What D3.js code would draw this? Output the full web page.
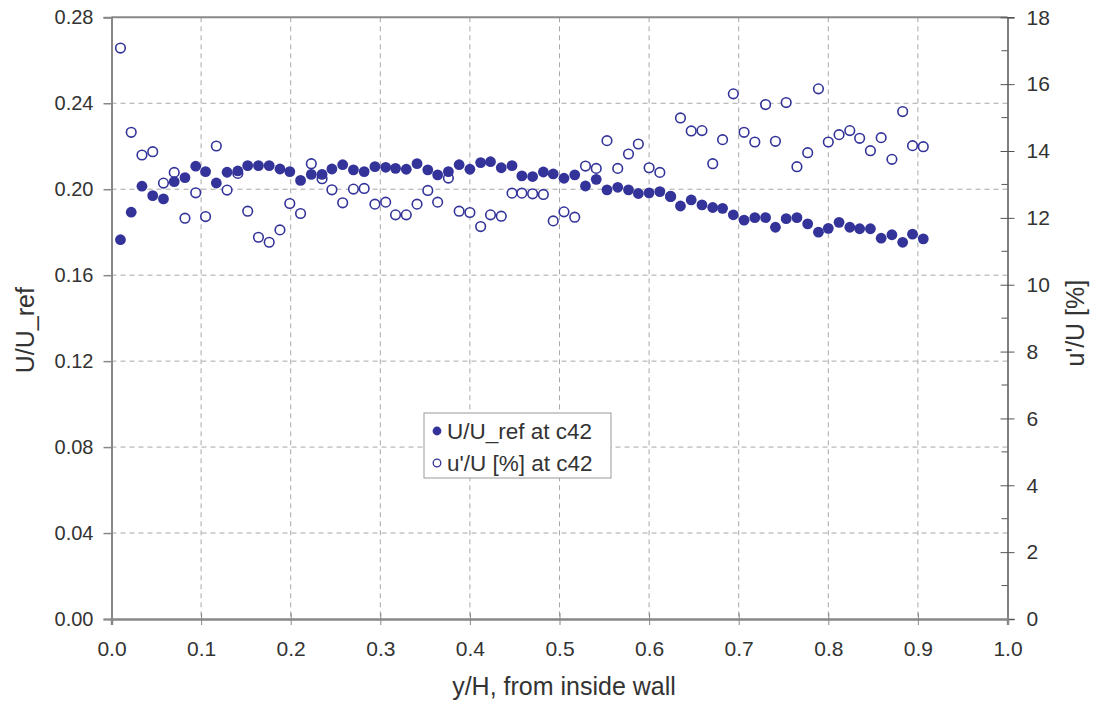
<!DOCTYPE html>
<html>
<head>
<meta charset="utf-8">
<script src="https://cdn.jsdelivr.net/npm/d3@7"></script>
<style>
  body { margin: 0; background: #fff; }
  svg { display: block; font-family: "Liberation Sans", Arial, sans-serif; }
</style>
</head>
<body>
<svg id="chart" width="1099" height="704"></svg>
<script>
// ---- data ----
const xPos = [0.010,0.022,0.034,0.046,0.058,0.070,0.082,0.094,0.105,0.117,0.129,0.141,0.152,0.164,0.176,0.188,0.199,0.211,0.223,0.235,
  0.246,0.258,0.270,0.282,0.294,0.306,0.317,0.329,0.341,0.353,0.364,0.376,0.388,0.400,0.412,0.423,0.435,0.447,0.458,0.470,0.482,
  0.493,0.505,0.517,0.529,0.541,0.553,0.565,0.577,0.588,0.600,0.612,0.624,0.635,0.647,0.659,0.671,0.682,0.694,0.706,0.718,0.730,
  0.741,0.753,0.765,0.777,0.789,0.800,0.812,0.824,0.835,0.847,0.859,0.871,0.883,0.894,0.906];
const uRef = [0.1765,0.1893,0.2014,0.1970,0.1955,0.2035,0.2054,0.2107,0.2082,0.2029,0.2079,0.2085,0.2110,0.2110,0.2110,0.2094,0.2082,0.2041,0.2069,0.2069,
  0.2094,0.2114,0.2090,0.2082,0.2105,0.2102,0.2097,0.2093,0.2119,0.2090,0.2067,0.2082,0.2114,0.2093,0.2124,0.2128,0.2100,0.2110,0.2062,0.2059,0.2080,
  0.2071,0.2051,0.2067,0.2015,0.2046,0.1997,0.2009,0.1997,0.1980,0.1983,0.1989,0.1966,0.1922,0.1950,0.1927,0.1915,0.1911,0.1881,0.1856,0.1868,0.1868,
  0.1823,0.1863,0.1868,0.1839,0.1800,0.1818,0.1846,0.1823,0.1816,0.1816,0.1772,0.1788,0.1753,0.1791,0.1769];
const uTurb = [17.08,14.56,13.88,13.98,13.04,13.36,11.99,12.75,12.04,14.15,12.83,13.33,12.20,11.42,11.27,11.64,12.43,12.13,13.62,13.17,
  12.84,12.45,12.86,12.88,12.41,12.47,12.09,12.09,12.41,12.82,12.47,13.19,12.20,12.16,11.74,12.09,12.05,12.74,12.74,12.72,12.70,
  11.91,12.18,12.02,13.55,13.48,14.31,13.48,13.91,14.21,13.50,13.36,12.64,14.99,14.60,14.61,13.62,14.34,15.71,14.56,14.27,15.39,
  14.29,15.45,13.53,13.95,15.86,14.27,14.49,14.61,14.38,14.01,14.40,13.75,15.18,14.16,14.13];
const xTicks = [0,0.1,0.2,0.3,0.4,0.5,0.6,0.7,0.8,0.9,1.0];
const yLeftTicks = [0,0.04,0.08,0.12,0.16,0.20,0.24,0.28];
const yRightTicks = [0,2,4,6,8,10,12,14,16,18];
const yRightMinor = [1,3,5,7,9,11,13,15,17];
const legendLabels = ["U/U_ref at c42", "u'/U [%] at c42"];
const xTitle = "y/H, from inside wall";
const yLeftTitle = "U/U_ref";
const yRightTitle = "u'/U [%]";

// ---- layout ----
const L = 111.5, R = 1007.5, T = 17.3, B = 619;
const color = "#33339a";
const textColor = "#333";
const svg = d3.select("#chart");

const x = d3.scaleLinear().domain([0, 1]).range([L, R]);
const yL = d3.scaleLinear().domain([0, 0.28]).range([B, T]);
const yR = d3.scaleLinear().domain([0, 18]).range([B, T]);

// gridlines
const grid = svg.append("g").attr("stroke", "#a8a8a8").attr("stroke-width", 1).attr("stroke-dasharray", "5,4");
grid.selectAll("line.v").data(xTicks.filter(d => d > 0 && d < 1)).join("line")
  .attr("x1", d => x(d)).attr("x2", d => x(d)).attr("y1", T).attr("y2", B);
grid.selectAll("line.h").data(yLeftTicks.filter(d => d > 0 && d < 0.28)).join("line")
  .attr("x1", L).attr("x2", R).attr("y1", d => yL(d)).attr("y2", d => yL(d));

// top frame
svg.append("line").attr("x1", L).attr("x2", R).attr("y1", T).attr("y2", T).attr("stroke", "#888").attr("stroke-width", 2);

// left axis
const gL = svg.append("g").attr("transform", `translate(${L},0)`)
  .call(d3.axisLeft(yL).tickValues(yLeftTicks).tickFormat(d3.format(".2f")).tickSize(8).tickPadding(10));
gL.select(".domain").attr("stroke", "#888").attr("stroke-width", 2);
gL.selectAll(".tick line").attr("stroke", "#888").attr("stroke-width", 1.5);
gL.selectAll(".tick text").attr("font-size", 20).attr("fill", textColor).attr("font-family", "Liberation Sans, Arial, sans-serif");

// right axis
const gR = svg.append("g").attr("transform", `translate(${R},0)`)
  .call(d3.axisRight(yR).tickValues(yRightTicks).tickSize(7).tickPadding(12));
gR.select(".domain").attr("stroke", "#555").attr("stroke-width", 1.5);
gR.selectAll(".tick line").attr("stroke", "#555").attr("x1", -7);
gR.selectAll(".tick text").attr("font-size", 21).attr("fill", textColor).attr("font-family", "Liberation Sans, Arial, sans-serif");
gR.selectAll("line.minor").data(yRightMinor).join("line").attr("class", "minor")
  .attr("x1", -6).attr("x2", 0).attr("y1", d => yR(d)).attr("y2", d => yR(d)).attr("stroke", "#555");

// bottom axis
const gB = svg.append("g").attr("transform", `translate(0,${B})`)
  .call(d3.axisBottom(x).tickValues(xTicks).tickFormat(d3.format(".1f")).tickSize(6).tickPadding(16));
gB.select(".domain").attr("stroke", "#888").attr("stroke-width", 2.5);
gB.selectAll(".tick line").attr("stroke", "#888").attr("y1", -6);
gB.selectAll(".tick text").attr("font-size", 21).attr("fill", textColor)
  .attr("font-family", "Liberation Sans Narrow, Liberation Sans, Arial, sans-serif");

// series: open first, filled on top
svg.append("g").selectAll("circle").data(xPos.map((d, i) => [d, uTurb[i]])).join("circle")
  .attr("cx", d => x(d[0])).attr("cy", d => yR(d[1])).attr("r", 4.8)
  .attr("fill", "#fff").attr("stroke", color).attr("stroke-width", 1.6);
svg.append("g").selectAll("circle").data(xPos.map((d, i) => [d, uRef[i]])).join("circle")
  .attr("cx", d => x(d[0])).attr("cy", d => yL(d[1])).attr("r", 5.4)
  .attr("fill", color);

// titles
svg.append("text").attr("transform", `translate(34,${(T + B) / 2 + 12}) rotate(-90)`)
  .attr("text-anchor", "middle").attr("font-size", 25).attr("fill", textColor).text(yLeftTitle);
svg.append("text").attr("transform", `translate(1084,${(T + B) / 2 + 5}) rotate(-90)`)
  .attr("text-anchor", "middle").attr("font-size", 25).attr("fill", textColor).text(yRightTitle);
svg.append("text").attr("x", 564).attr("y", 695)
  .attr("text-anchor", "middle").attr("font-size", 25).attr("fill", textColor).text(xTitle);

// legend
const lg = svg.append("g").attr("transform", "translate(424,413)");
lg.append("rect").attr("width", 187).attr("height", 65).attr("fill", "#fff").attr("stroke", "#999").attr("stroke-width", 1);
lg.append("circle").attr("cx", 13).attr("cy", 18).attr("r", 4.4).attr("fill", color);
lg.append("circle").attr("cx", 13).attr("cy", 50).attr("r", 3.8).attr("fill", "#fff").attr("stroke", color).attr("stroke-width", 1.3);
lg.append("text").attr("x", 23).attr("y", 26).attr("font-size", 22.5).attr("fill", textColor).text(legendLabels[0]);
lg.append("text").attr("x", 23).attr("y", 58).attr("font-size", 22.5).attr("fill", textColor).text(legendLabels[1]);
</script>
</body>
</html>
